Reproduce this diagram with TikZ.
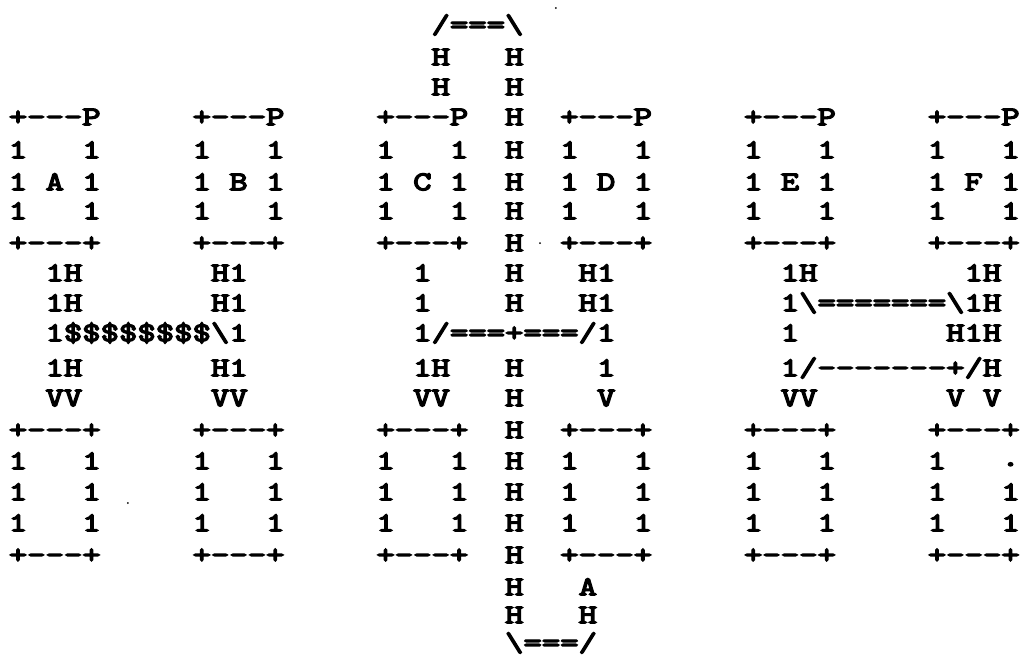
\documentclass[tikz,border=0pt]{standalone}
\usepackage{fontspec}
\newfontfamily\tw{lmmono10-regular}[Extension=.otf,FakeBold=5,FakeStretch=1.2966]
\newcommand\rowy[1]{\ifcase#1 25\or 57\or 87\or 117\or 150\or 182\or 211\or 243\or 273\or 303\or 333\or 368\or 398\or 430\or 461\or 492\or 523\or 555\or 587\or 615\or 643\fi}
\newcommand\seg[3]{\node[txt] (n#1-#2) at ({#2-0.5},{\rowy{#1}+8.2}) {#3};}
\begin{document}
\begin{tikzpicture}[x=18.38pt,y=-1pt,
  txt/.style={font=\tw\fontsize{27}{27}\selectfont,inner sep=0pt,outer sep=0pt,anchor=base west}]
\useasboundingbox[fill=white] (-0.9793,0) rectangle (54.570,656);
% central loop
\seg{0}{23}{/===\textbackslash}
\foreach \r in {1,2} {\seg{\r}{23}{H}}
\foreach \r in {1,2,3,4,5,6,7,8,9,11,12,13,14,15,16,17,18,19} {\seg{\r}{27}{H}}
\seg{20}{27}{\textbackslash===/}
% boxes
\foreach \c in {0,10,20,30,40,50} {
  \seg{3}{\c}{+---P}
  \seg{7}{\c}{+---+}
  \seg{13}{\c}{+---+}
  \seg{17}{\c}{+---+}
}
\foreach \c in {0,4,10,14,20,24,30,34,40,44,50,54} {
  \seg{4}{\c}{1}
  \seg{5}{\c}{1}
  \seg{6}{\c}{1}
  \seg{15}{\c}{1}
  \seg{16}{\c}{1}
}
\foreach \c in {0,4,10,14,20,24,30,34,40,44,50} {\seg{14}{\c}{1}}
\node[txt] (n14-54) at (53.5,466) {.};
\seg{5}{2}{A}
\seg{5}{12}{B}
\seg{5}{22}{C}
\seg{5}{32}{D}
\seg{5}{42}{E}
\seg{5}{52}{F}
% left connectors
\foreach \r in {8,9,11} {\seg{\r}{2}{1H}\seg{\r}{11}{H1}}
\seg{10}{2}{1\$\$\$\$\$\$\$\$\textbackslash1}
\seg{12}{2}{VV}
\seg{12}{11}{VV}
% centre connectors
\foreach \r in {8,9} {\seg{\r}{22}{1}\seg{\r}{31}{H1}}
\seg{10}{22}{1/===+===/1}
\seg{11}{22}{1H}
\seg{11}{32}{1}
\seg{12}{22}{VV}
\seg{12}{32}{V}
\seg{18}{31}{A}
\seg{19}{31}{H}
% right connectors
\seg{8}{42}{1H}
\seg{8}{52}{1H}
\seg{9}{42}{1\textbackslash=======\textbackslash1H}
\seg{10}{42}{1}
\seg{10}{51}{H1H}
\seg{11}{42}{1/-------+/H}
\seg{12}{42}{VV}
\seg{12}{51}{V}
\seg{12}{53}{V}
% specks
\fill (29.27,8) circle[radius=1pt];
\fill (28.40,243) circle[radius=1pt];
\fill (5.98,503) circle[radius=1pt];
\end{tikzpicture}
\end{document}
